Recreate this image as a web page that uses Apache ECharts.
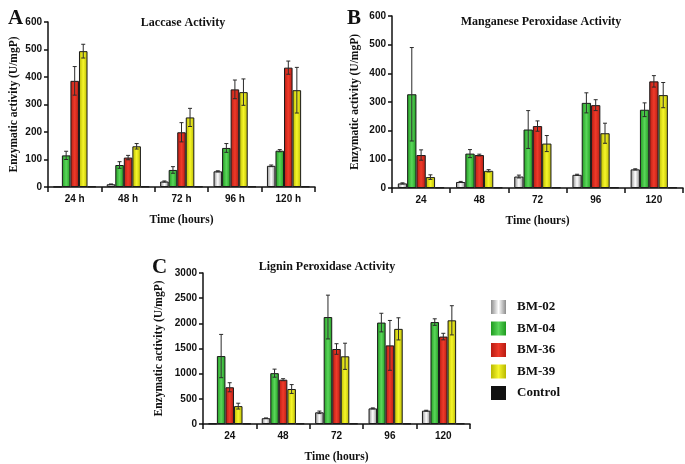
<!DOCTYPE html>
<html><head><meta charset="utf-8">
<script src="https://cdn.jsdelivr.net/npm/echarts@6/dist/echarts.min.js"></script>
<style>html,body{margin:0;padding:0;background:#fff}#c{width:685px;height:464px}</style>
</head><body><div id="c"></div>
<script>
const categoriesA = ['24 h','48 h','72 h','96 h','120 h'];
const categoriesBC = ['24','48','72','96','120'];
const seriesNames = ['BM-02','BM-04','BM-36','BM-39','Control'];
const yTicksAB = [0,100,200,300,400,500,600];
const yTicksC = [0,500,1000,1500,2000,2500,3000];

// Laccase (A)
const lacBM02 = [1, 10, 20, 57, 77];
const lacBM04 = [115, 80, 62, 142, 132];
const lacBM36 = [386, 107, 199, 355, 434];
const lacBM39 = [494, 148, 253, 345, 352];
const lacCtrl = [2, 2, 2, 2, 2];
const lacErrBM02 = [0, 1, 2, 2, 3];
const lacErrBM04 = [15, 12, 12, 16, 4];
const lacErrBM36 = [52, 8, 35, 34, 24];
const lacErrBM39 = [25, 10, 33, 48, 83];

// Manganese peroxidase (B)
const mnpBM02 = [16, 21, 40, 46, 65];
const mnpBM04 = [327, 120, 204, 297, 273];
const mnpBM36 = [115, 115, 216, 289, 372];
const mnpBM39 = [38, 60, 155, 191, 324];
const mnpCtrl = [2, 2, 2, 2, 2];
const mnpErrBM02 = [2, 2, 5, 2, 2];
const mnpErrBM04 = [163, 14, 66, 35, 24];
const mnpErrBM36 = [18, 3, 18, 19, 20];
const mnpErrBM39 = [8, 4, 28, 35, 44];

// Lignin peroxidase (C)
const lipBM02 = [10, 115, 232, 310, 265];
const lipBM04 = [1350, 1010, 2125, 2015, 2025];
const lipBM36 = [730, 880, 1490, 1562, 1737];
const lipBM39 = [355, 695, 1345, 1890, 2060];
const lipCtrl = [10, 10, 10, 10, 10];
const lipErrBM02 = [0, 5, 25, 10, 8];
const lipErrBM04 = [430, 80, 435, 185, 65];
const lipErrBM36 = [90, 20, 105, 495, 65];
const lipErrBM39 = [58, 88, 260, 220, 290];

function grad(edge, mid){
  return new echarts.graphic.LinearGradient(0,0,1,0,[
    {offset:0,color:edge},{offset:0.5,color:mid},{offset:1,color:edge}]);
}
const colors = [
  grad('#8c8c8c','#ffffff'),
  grad('#1f9a1f','#5ad65a'),
  grad('#b81c12','#ee3a2a'),
  grad('#b8b800','#f6f62a'),
  '#111111'
];

const serif = '"Liberation Serif","Times New Roman",serif';
const sans = '"Liberation Sans",Arial,sans-serif';

const panels = [
  {vals:[lacBM02,lacBM04,lacBM36,lacBM39,lacCtrl], errs:[lacErrBM02,lacErrBM04,lacErrBM36,lacErrBM39],
   cats:categoriesA, ticks:yTicksAB, grid:{left:48,right:370,top:22,bottom:277}, nameGap:28},
  {vals:[mnpBM02,mnpBM04,mnpBM36,mnpBM39,mnpCtrl], errs:[mnpErrBM02,mnpErrBM04,mnpErrBM36,mnpErrBM39],
   cats:categoriesBC, ticks:yTicksAB, grid:{left:392,right:2,top:16,bottom:276}, nameGap:31},
  {vals:[lipBM02,lipBM04,lipBM36,lipBM39,lipCtrl], errs:[lipErrBM02,lipErrBM04,lipErrBM36,lipErrBM39],
   cats:categoriesBC, ticks:yTicksC, grid:{left:203,right:215,top:273,bottom:36}, nameGap:38}
];

const grids=[], xAxes=[], yAxes=[], series=[];
panels.forEach((p,gi)=>{
  grids.push(p.grid);
  const t=p.ticks;
  xAxes.push({type:'category', gridIndex:gi, data:p.cats,
    axisLine:{lineStyle:{color:'#111',width:1.5}},
    axisTick:{show:true, length:5, lineStyle:{color:'#111',width:1.5}},
    axisLabel:{color:'#111', fontFamily:sans, fontWeight:'bold', fontSize:10, margin:7},
    name:'Time (hours)', nameLocation:'middle', nameGap:27,
    nameTextStyle:{fontFamily:serif, fontWeight:'bold', fontSize:11.5, color:'#111'}});
  yAxes.push({type:'value', gridIndex:gi, min:t[0], max:t[t.length-1], interval:t[1]-t[0],
    splitLine:{show:false},
    axisLine:{show:true, lineStyle:{color:'#111',width:1.5}},
    axisTick:{show:true, length:4, lineStyle:{color:'#111',width:1.5}},
    axisLabel:{color:'#111', fontFamily:sans, fontWeight:'bold', fontSize:10, margin:6,
      formatter:function(v){return String(v);}},
    name:'Enzymatic activity (U/mgP)', nameLocation:'middle', nameGap:p.nameGap,
    nameTextStyle:{fontFamily:serif, fontWeight:'bold', fontSize:11.5, color:'#111'}});
  p.vals.forEach((arr,si)=>{
    series.push({type:'bar', name:seriesNames[si], xAxisIndex:gi, yAxisIndex:gi,
      data:arr, barGap:'0%', barCategoryGap:'20%',
      itemStyle:{color:colors[si], borderColor:'#1a1a1a', borderWidth:1}});
  });
  const errData=[];
  p.errs.forEach((arr,si)=>{
    arr.forEach((e,ci)=>{
      if(e>0){ const v=p.vals[si][ci]; errData.push([ci, si, v-e, v+e]); }
    });
  });
  series.push({type:'custom', name:'err'+gi, xAxisIndex:gi, yAxisIndex:gi, z:5,
    data:errData, encode:{x:0, y:[2,3]},
    renderItem:function(params, api){
      const ci=api.value(0), si=api.value(1);
      const lo=api.coord([ci, api.value(2)]);
      const hi=api.coord([ci, api.value(3)]);
      const band=api.size([1,0])[0];
      const bw=band*0.8/5;
      const x=lo[0]+(si-2)*bw;
      const st={stroke:'#2a2a2a', lineWidth:1};
      const c=2;
      return {type:'group', children:[
        {type:'line', shape:{x1:x,y1:lo[1],x2:x,y2:hi[1]}, style:st},
        {type:'line', shape:{x1:x-c,y1:lo[1],x2:x+c,y2:lo[1]}, style:st},
        {type:'line', shape:{x1:x-c,y1:hi[1],x2:x+c,y2:hi[1]}, style:st}
      ]};
    }});
});

const chart = echarts.init(document.getElementById('c'), null, {renderer:'canvas'});
chart.setOption({
  animation:false,
  backgroundColor:'#fff',
  title:[
    {text:'Laccase Activity', left:178, top:12, textAlign:'center',
     textStyle:{fontFamily:serif, fontWeight:'bold', fontSize:12, color:'#111'}},
    {text:'Manganese Peroxidase Activity', left:536, top:11, textAlign:'center',
     textStyle:{fontFamily:serif, fontWeight:'bold', fontSize:12, color:'#111'}},
    {text:'Lignin Peroxidase Activity', left:322, top:256, textAlign:'center',
     textStyle:{fontFamily:serif, fontWeight:'bold', fontSize:12, color:'#111'}},
    {text:'A', left:3, top:3, textStyle:{fontFamily:serif, fontWeight:'bold', fontSize:21, color:'#111'}},
    {text:'B', left:342, top:3, textStyle:{fontFamily:serif, fontWeight:'bold', fontSize:21, color:'#111'}},
    {text:'C', left:147, top:252, textStyle:{fontFamily:serif, fontWeight:'bold', fontSize:21, color:'#111'}}
  ],
  legend:{data:seriesNames, orient:'vertical', left:486, top:295, itemWidth:15, itemHeight:14, itemGap:7.5,
    icon:'rect',
    itemStyle:{borderWidth:0},
    textStyle:{fontFamily:serif, fontWeight:'bold', fontSize:13, color:'#111', padding:[0,0,0,6]}},
  grid:grids, xAxis:xAxes, yAxis:yAxes, series:series
});
</script></body></html>
